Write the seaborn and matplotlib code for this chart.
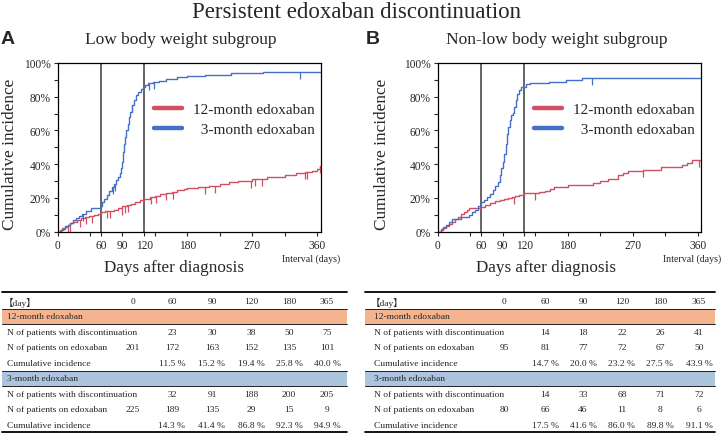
import numpy as np
import matplotlib
matplotlib.use("Agg")
import matplotlib.pyplot as plt
import seaborn as sns
from matplotlib.lines import Line2D
from matplotlib.ticker import FuncFormatter

sns.set_style("ticks")
plt.rcParams['font.family'] = ['Liberation Serif', 'Noto Sans CJK JP', 'DejaVu Sans']

RED = '#D24F63'
BLUE = '#4670C8'

# ---- curve data (days, cumulative incidence %) ----
# Panel A: low body weight
a12_days = [0, 3, 6, 10, 14, 18, 22, 27, 32, 38, 44, 50, 56, 60, 66, 72, 78, 84, 90,
            96, 102, 108, 114, 120, 128, 135, 142, 150, 158, 166, 175, 180, 195, 210,
            225, 237, 250, 269, 290, 315, 330, 343, 352, 359, 363, 365]
a12_inc = [0, 1.0, 2.0, 3.0, 4.0, 5.0, 6.0, 7.0, 8.0, 9.0, 9.5, 10.0, 10.5, 11.5, 12.0,
           12.5, 13.0, 14.0, 15.2, 16.0, 16.5, 17.5, 18.5, 19.4, 20.3, 21.3, 22.3, 23.0,
           23.8, 24.5, 25.3, 25.8, 26.3, 26.8, 28.5, 29.6, 30.3, 31.2, 32.5, 33.6, 34.5,
           35.5, 36.2, 37.0, 38.7, 38.7]
a3_days = [0, 5, 8, 11, 14, 18, 22, 26, 30, 34, 39, 47, 60, 62, 65, 68, 72, 75, 78, 81,
           84, 86, 88, 90, 91, 92, 93, 95, 97, 99, 101, 103, 106, 109, 112, 115, 118, 121,
           126, 132, 140, 150, 165, 180, 205, 240, 285, 320, 365]
a3_inc = [0, 0.9, 1.8, 3.1, 4.0, 5.3, 6.7, 8.0, 9.3, 10.7, 12.0, 14.3, 15.0, 17.5, 19.5,
          21.5, 24.0, 26.5, 28.5, 30.5, 32.5, 34.5, 37.5, 41.4, 47.0, 52.0, 56.0, 60.0,
          64.0, 68.0, 71.0, 75.0, 78.0, 81.0, 83.0, 84.5, 85.5, 86.8, 88.0, 88.8, 89.6,
          90.5, 91.5, 92.3, 93.0, 93.9, 94.5, 94.9, 94.9]
a12_cens = [15, 17, 31, 40, 48, 69, 73, 89, 93, 97, 130, 137, 150, 160, 205, 218, 268,
            274, 283, 343, 345, 363]
a3_cens = [35, 77, 80, 103, 127, 134, 336]

# Panel B: non-low body weight
b12_days = [0, 4, 8, 12, 16, 20, 24, 28, 32, 36, 40, 43, 60, 66, 72, 79, 86, 92, 98, 103,
            107, 113, 120, 130, 140, 148, 155, 161, 180, 207, 215, 225, 236, 250, 257,
            264, 285, 310, 338, 345, 352, 365]
b12_inc = [0, 1.2, 2.4, 3.5, 4.6, 6.0, 7.5, 9.0, 10.5, 11.5, 12.8, 14.0, 14.7, 15.8,
           17.0, 18.4, 18.9, 19.4, 20.0, 20.6, 21.3, 22.0, 23.2, 23.2, 23.8, 24.3, 25.3,
           26.3, 27.5, 27.7, 29.0, 30.2, 31.5, 33.6, 34.5, 35.8, 36.8, 38.2, 39.5, 40.8,
           42.5, 42.5]
b3_days = [0, 4, 8, 12, 16, 20, 25, 32, 38, 43, 47, 52, 56, 60, 64, 68, 72, 76, 80, 83,
           86, 88, 90, 92, 94, 96, 98, 100, 102, 104, 106, 108, 110, 113, 116, 120, 123,
           128, 154, 178, 200, 365]
b3_inc = [0, 1.5, 2.5, 4.0, 5.5, 7.5, 7.5, 8.5, 8.5, 10.0, 11.5, 13.0, 15.0, 17.5, 18.8,
          20.5, 22.5, 25.0, 27.0, 29.5, 33.5, 37.5, 41.6, 46.0, 52.0, 58.0, 62.0, 66.0,
          69.0, 70.5, 74.0, 78.0, 81.5, 84.0, 85.5, 86.0, 87.5, 88.3, 89.0, 89.8, 91.1,
          91.1]
b12_cens = [105, 135, 285, 362]
b3_cens = [214]

# ---- table data ----
table_days = ['0', '60', '90', '120', '180', '365']
row_names = ['N of patients with discontinuation', 'N of patients on edoxaban',
             'Cumulative incidence']
a12_disc = [None, 23, 30, 38, 50, 75]
a12_on = [201, 172, 163, 152, 135, 101]
a12_ci = [None, 11.5, 15.2, 19.4, 25.8, 40.0]
a3_disc = [None, 32, 91, 188, 200, 205]
a3_on = [225, 189, 135, 29, 15, 9]
a3_ci = [None, 14.3, 41.4, 86.8, 92.3, 94.9]
b12_disc = [None, 14, 18, 22, 26, 41]
b12_on = [95, 81, 77, 72, 67, 50]
b12_ci = [None, 14.7, 20.0, 23.2, 27.5, 43.9]
b3_disc = [None, 14, 33, 68, 71, 72]
b3_on = [80, 66, 46, 11, 8, 6]
b3_ci = [None, 17.5, 41.6, 86.0, 89.8, 91.1]

W, H = 722, 435
fig = plt.figure(figsize=(W / 100, H / 100), dpi=100)

# overlay in pixel coordinates for titles and tables
ov = fig.add_axes([0, 0, 1, 1])
ov.set_xlim(0, W)
ov.set_ylim(H, 0)
ov.axis('off')


def step_value(days, inc, d):
    i = np.searchsorted(days, d, side='right') - 1
    return np.asarray(inc)[i]


def draw_panel(rect, curves, xlab_x, ylab_x):
    ax = fig.add_axes(rect)
    for days, inc, cens, col in curves:
        sns.lineplot(x=days, y=inc, ax=ax, color=col, lw=1.0,
                     drawstyle='steps-post', estimator=None, legend=False)
        cy = [step_value(days, inc, d) for d in cens]
        ax.plot(cens, cy, ls='none', marker=3, ms=5, mew=0.9, color=col)
    for d in [60, 120]:
        ax.axvline(d, color='#3a3a3a', lw=1.1, zorder=1)
    ax.set_xlim(0, 365)
    ax.set_ylim(0, 100)
    ax.set_xticks([0, 60, 90, 120, 180, 270, 360])
    ax.set_xticks([45, 135, 225, 315], minor=True)
    ax.set_yticks(range(0, 101, 20))
    ax.set_yticks(range(10, 100, 20), minor=True)
    ax.yaxis.set_major_formatter(FuncFormatter(lambda v, p: f"{v:.0f}%"))
    ax.tick_params(which='both', direction='out', length=3, width=0.8,
                   labelsize=8.3, pad=2)
    for s in ax.spines.values():
        s.set_linewidth(0.9)
        s.set_color('black')
    ax.set_xlabel('Days after diagnosis', fontsize=12.3)
    ax.xaxis.set_label_coords(xlab_x, -0.21)
    ax.xaxis.label.set_va('center')
    ax.set_ylabel('Cumulative incidence', fontsize=12.4)
    ax.yaxis.set_label_coords(ylab_x, 0.4635)
    ax.yaxis.label.set_va('center')
    handles = [Line2D([], [], color=RED, lw=3.2), Line2D([], [], color=BLUE, lw=3.2)]
    ax.legend(handles, ['12-month edoxaban', '  3-month edoxaban'], loc='upper left',
              bbox_to_anchor=(0.366, 0.765), frameon=False, fontsize=11,
              handlelength=1.85, handletextpad=0.7, labelspacing=0.4,
              borderpad=0, borderaxespad=0)
    return ax


ax_a = draw_panel([57.5 / W, (H - 232.7) / H, 263.5 / W, 168.7 / H],
                  [(a12_days, a12_inc, a12_cens, RED), (a3_days, a3_inc, a3_cens, BLUE)],
                  0.443, -0.180)
ax_b = draw_panel([437.7 / W, (H - 232.7) / H, 263.5 / W, 168.7 / H],
                  [(b12_days, b12_inc, b12_cens, RED), (b3_days, b3_inc, b3_cens, BLUE)],
                  0.411, -0.211)

ov.text(356.5, 13, 'Persistent edoxaban discontinuation', ha='center', va='center',
        fontsize=16.5)
ov.text(1, 40, 'A', ha='left', va='center', fontsize=14, fontweight='bold',
        family='Liberation Sans')
ov.text(366, 40, 'B', ha='left', va='center', fontsize=14, fontweight='bold',
        family='Liberation Sans')
ov.text(180.5, 40, 'Low body weight subgroup', ha='center', va='center', fontsize=12.5)
ov.text(557, 40, 'Non-low body weight subgroup', ha='center', va='center', fontsize=12.5)
ov.text(311, 259, 'Interval (days)', ha='center', va='center', fontsize=7.1)
ov.text(692, 259, 'Interval (days)', ha='center', va='center', fontsize=7.1)


def fmt(v, pct=False):
    if v is None:
        return ''
    return f"{v:.1f} %" if pct else str(v)


def draw_table(x0, x1, xl, cols, g12, g3):
    fs = 6.8
    ov.plot([x0, x1], [292.5, 292.5], color='black', lw=1.3)
    ov.plot([x0, x1], [432.5, 432.5], color='black', lw=1.3)
    ov.text(xl - 3, 302.5, '【day】', va='center', ha='left', fontsize=fs)
    for cx, d in zip(cols, table_days):
        ov.text(cx, 302.5, d, ha='center', va='center', fontsize=fs)
    bands = [(310, 324.5, '#F5B490', '12-month edoxaban', g12, [333, 348.5, 364]),
             (372, 386.5, '#ACC4DE', '3-month edoxaban', g3, [395.5, 410.5, 426])]
    for top, bot, col, name, group, ys in bands:
        ov.fill_between([x0, x1], top, bot, color=col, lw=0)
        ov.plot([x0, x1], [top, top], color='#202020', lw=0.7)
        ov.plot([x0, x1], [bot, bot], color='#202020', lw=0.7)
        ov.text(xl, (top + bot) / 2, name, ha='left', va='center', fontsize=fs)
        for ry, rn, vals, pct in zip(ys, row_names, group, [False, False, True]):
            ov.text(xl, ry, rn, ha='left', va='center', fontsize=fs)
            for cx, v in zip(cols, vals):
                ov.text(cx, ry, fmt(v, pct), ha='center', va='center', fontsize=fs)


draw_table(2, 347, 7, [133, 172, 212, 251, 289, 327],
           [a12_disc, a12_on, a12_ci], [a3_disc, a3_on, a3_ci])
draw_table(365, 715, 374, [504, 545, 583, 622, 660, 699],
           [b12_disc, b12_on, b12_ci], [b3_disc, b3_on, b3_ci])

fig.savefig('out.png', dpi=100)
